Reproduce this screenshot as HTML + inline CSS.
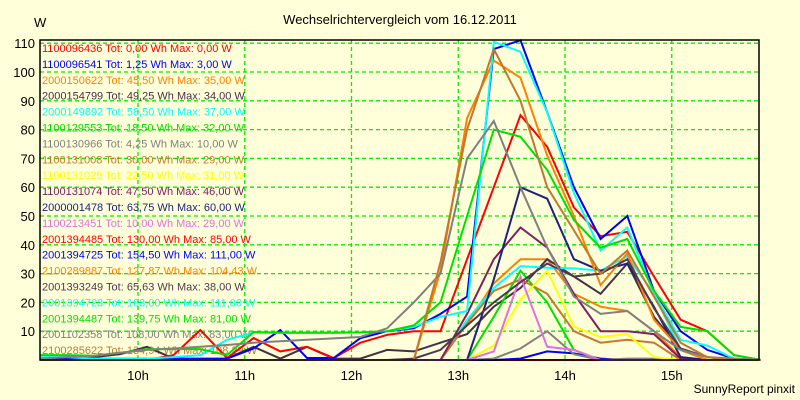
<!DOCTYPE html>
<html><head><meta charset="utf-8">
<style>
html,body{margin:0;padding:0;background:#ffffd9;}
svg{display:block;font-family:"Liberation Sans",sans-serif;}
</style></head>
<body>
<svg id="chart" width="800" height="400" viewBox="0 0 800 400">
<rect x="0" y="0" width="800" height="400" fill="#ffffd9"/>
<text x="400" y="24" text-anchor="middle" font-size="13" fill="#000">Wechselrichtervergleich vom 16.12.2011</text>
<text x="34" y="27" font-size="13" fill="#000">W</text>
<text x="795" y="393" text-anchor="end" font-size="12" fill="#000">SunnyReport pinxit</text>
<g id="grid"></g>
<g id="yticks"></g>
<g id="xticks"></g>
<g id="legend"></g>
<g id="series"></g>
<rect x="40" y="40" width="719" height="320" fill="none" stroke="#000" stroke-width="1.5"/>
</svg>
<script>
// time samples: 9:05 + k*15min, k=0..27
const startHour = 9 + 5/60;
const stepHour = 0.25;
const yTicks = [0,10,20,30,40,50,60,70,80,90,100,110];
const yTickLabels = ["","10","20","30","40","50","60","70","80","90","100","110"];
const xTicks = [10,11,12,13,14,15];
const xTickLabels = ["10h","11h","12h","13h","14h","15h"];

const names = ["1100096436","1100096541","2000150622","2000154799","2000149892","1100129553","1100130966","1100131008","1100131025","1100131074","2000001478","1100213451","2001394485","2001394725","2100289887","2001393249","2001394723","2001394487","2001102358","2100285622"];
const totals = ["0,00","1,25","45,50","49,25","58,50","18,50","4,25","30,00","22,50","47,50","63,75","10,00","130,00","154,50","127,87","65,63","163,00","139,75","108,00","134,94"];
const maxima = ["0,00","3,00","35,00","34,00","37,00","32,00","10,00","29,00","31,00","46,00","60,00","29,00","85,00","111,00","104,43","38,00","111,00","81,00","83,00","108,29"];
const colors = ["#ff0000","#0000ff","#ff8000","#463046","#00ffff","#00e000","#808080","#c87828","#ffff00","#802060","#202080","#e070e0","#ff0000","#0000ff","#ff8000","#503850","#00ffff","#00e000","#808080","#c07830"];

const s01 = [0,0,0,0,0,0,0,0,0,0,0,0,0,0,0,0,0,0,0,0,0,0,0,0,0,0,0,0];
const s02 = [0,0,0,0,0,0,0,0,0,0,0,0,0,0,0,0,0,0,0.5,3,2.3,0.5,0,0,0,0,0,0];
const s03 = [0,0,0,0,0,0,0,0,0,0,0,0,0,0,0,0,12.7,26.6,35,35,23,18.5,17,10,1,0,0,0];
const s04 = [0,0,1,2,4.6,0.5,0,0.5,4.6,0.5,4.6,0.5,0.5,3.5,3,6,9,18.5,25,35,29,23,33.5,15,3.5,0,0,0];
const s05 = [0,0,0,0,0,0,0,0,0,0,0,0,0,0,0,0,14,25,32.6,32,31.8,31,36,23,3.5,0,0,0];
const s06 = [0,0,0,0,0,0,0,0,0,0,0,0,0,0,0,0,0,15,31,20,3.5,0,0,0,0,0,0,0];
const s07 = [0,0,0,0,0,0,0,0,0,0,0,0,0,0,0,0,0,0.5,4,10,2,0,0.5,0.5,0,0,0,0];
const s08 = [0,0,0,0,0,0,0,0,0,0,0,0,0,0,0,0,12.7,24,28,23,10,6,7,6,0,0,0,0];
const s09 = [0,0,0,0,0,0,0,0,0,0,0,0,0,0,0,0,0,5,21,31,11.6,8,9,1,0,0,0,0];
const s10 = [0,0,0,0,0,0,0,0,0,0,0,0,0,0,0,0,16,35,46,39,23,10,10,9,0.5,0,0,0];
const s11 = [0,0,0,0,0,0,0,0,0,0,0,0,0,0,0,0,0,28,60,56,35,31,33.5,18.5,1,0,0,0];
const s12 = [0,0,0,0,0,0,0,0,0,0,0,0,0,0,0,0,0,3,29,4.6,3.5,0,0,0,0,0,0,0];
const s13 = [0,0,0,0,0,1.7,10.4,0.7,7.6,3,4.6,0.7,6,8.7,10,10,35,60,85,74,53,43,44.5,29,14,10,1.7,0];
const s14 = [0.5,0.5,0.5,0.5,0.5,0.5,0.5,0.5,4,10.4,0.7,0.7,7.6,10,11,16,22,108,111,86,60,42,50,24,10,3.5,0.5,0];
const s15 = [0,0,0,0,0,0,0,0,0,0,0,0,0,0,0,31,84,104,98,71,50,26,37,14,3.5,0,0,0];
const s16 = [0,0,0,0,0,0,0,0,0,0,0,0,0,0,0.5,3.5,12,20,27,33.5,29,30,35,18,4,1,0,0];
const s17 = [1,1,0.5,0.5,0.5,1,1.7,7,9.5,9.4,9.4,9.4,9.6,10,11.5,15,17,110.5,107,86,58,38,46,23,7,5,0.5,0];
const s18 = [1.7,1.7,1.5,2.5,3.8,3.8,3.8,1.7,9.7,9.5,9.5,9.5,9.6,10,12,20,50,80,77.5,66,48.6,39,42,24,11.5,10,1.7,0];
const s19 = [0.5,1,1.5,2.5,3.5,4,4.6,5.2,6,6.5,7,7.5,8,11,20,30,70,83,60,39,22,16,17,10,3.5,1,0.5,0];
const s20 = [0,0,0,0,0,0,0,0,0,0,0,0,0,0,0,34,80,108,90,60,45,30,38,22,6,1,0,0];
const seriesValues = [s01,s02,s03,s04,s05,s06,s07,s08,s09,s10,s11,s12,s13,s14,s15,s16,s17,s18,s19,s20];

const NS = "http://www.w3.org/2000/svg";
const plotL = 40, plotR = 759, plotT = 40, plotB = 360;
function xScale(h){ return 138 + (h - 10) * 106.75; }
function yScale(v){ return plotB - v * 2.88; }
function mk(tag, attrs, parent){
  const el = document.createElementNS(NS, tag);
  for (const k in attrs) el.setAttribute(k, attrs[k]);
  parent.appendChild(el);
  return el;
}
const grid = document.getElementById('grid');
const yt = document.getElementById('yticks');
const xt = document.getElementById('xticks');
yTicks.forEach((v,i)=>{
  const y = yScale(v);
  if (v > 0) {
    const l = mk('line',{x1:plotL,x2:plotR,y1:y,y2:y,stroke:'#00ee00','stroke-width':1.3,'stroke-dasharray':'4,3'},grid);
    
    
  }
  const t = mk('text',{x:35,y:y+5,'text-anchor':'end','font-size':13,fill:'#000'},yt);
  t.textContent = yTickLabels[i];
  
  
});
xTicks.forEach((h,i)=>{
  const x = xScale(h);
  const l = mk('line',{x1:x,x2:x,y1:plotT,y2:plotB,stroke:'#00ee00','stroke-width':1.3,'stroke-dasharray':'4,3'},grid);
  
  
  const t = mk('text',{x:x,y:380,'text-anchor':'middle','font-size':13,fill:'#000'},xt);
  t.textContent = xTickLabels[i];
  
  
});
const lg = document.getElementById('legend');
names.forEach((n,i)=>{
  const t = mk('text',{x:42,y:52 + i*15.9,'font-size':11,fill:colors[i]},lg);
  t.textContent = n + " Tot: " + totals[i] + " Wh Max: " + maxima[i] + " W";
  
  
});
const sg = document.getElementById('series');
seriesValues.forEach((vals,i)=>{
  const pts = vals.map((v,k)=> xScale(startHour + k*stepHour).toFixed(1) + "," + yScale(v).toFixed(1)).join(" ");
  const p = mk('polyline',{points:pts,fill:'none',stroke:colors[i],'stroke-width':2,'stroke-linejoin':'miter'},sg);
  
  
});
</script>
</body></html>
